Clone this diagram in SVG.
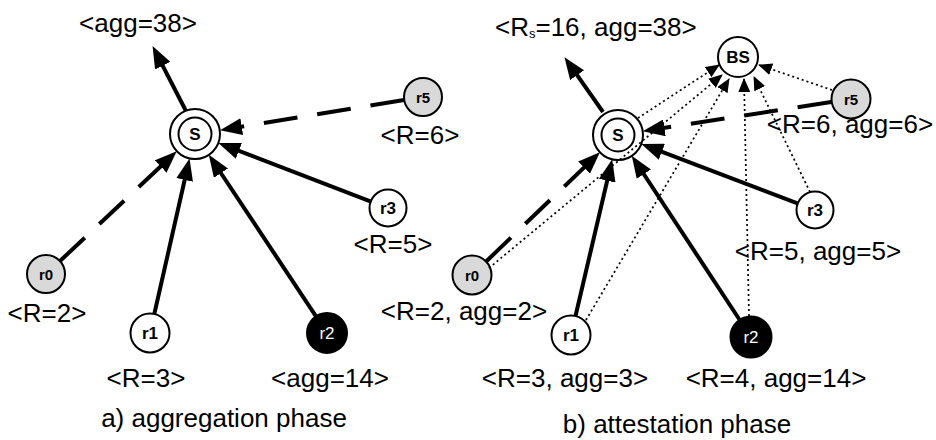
<svg xmlns="http://www.w3.org/2000/svg" width="936" height="440" viewBox="0 0 936 440">
<defs>
<marker id="big" markerUnits="userSpaceOnUse" markerWidth="22" markerHeight="17" refX="11" refY="8.5" orient="auto"><path d="M0,0 L22,8.5 L0,17 z" fill="#000"/></marker>
<marker id="small" markerUnits="userSpaceOnUse" markerWidth="14" markerHeight="12" refX="13" refY="6" orient="auto"><path d="M0,0 L14,6 L0,12 z" fill="#000"/></marker>
<style>
.lbl{font-family:"Liberation Sans",Arial,sans-serif;font-size:26px;fill:#000;text-anchor:middle}
.nl{font-family:"Liberation Sans",Arial,sans-serif;font-size:17px;font-weight:bold;fill:#000;text-anchor:middle}
.sm{font-size:15px}
.nd{fill:#fff;stroke:#000;stroke-width:2}
.gr{fill:#d9d9d9;stroke:#000;stroke-width:2}
.bk{fill:#000;stroke:#000;stroke-width:2}
.th{stroke:#000;stroke-width:4;fill:none;marker-end:url(#big)}
.da{stroke:#000;stroke-width:4;fill:none;stroke-dasharray:34 20;marker-end:url(#big)}
.dt{stroke:#000;stroke-width:1.7;fill:none;stroke-dasharray:2 3;marker-end:url(#small)}
</style>
</defs>
<rect width="936" height="440" fill="#fff"/>

<!-- left panel nodes -->
<g id="aS"><circle class="nd" cx="195" cy="134" r="25"/><circle class="nd" cx="195" cy="134" r="16.5"/><text class="nl" x="195" y="140">S</text></g>
<g id="ar5"><circle class="gr" cx="423" cy="97" r="19"/><text class="nl sm" x="423" y="102.5">r5</text></g>
<g id="ar3"><circle class="nd" cx="388" cy="208" r="18.5"/><text class="nl" x="388" y="214">r3</text></g>
<g id="ar0"><circle class="gr" cx="46" cy="274" r="19"/><text class="nl sm" x="46" y="279.5">r0</text></g>
<g id="ar1"><circle class="nd" cx="150" cy="333" r="19.5"/><text class="nl" x="150" y="339">r1</text></g>
<g id="ar2"><circle class="bk" cx="327" cy="333" r="20"/><text class="nl" x="327" y="339" style="fill:#fff;font-weight:normal">r2</text></g>

<!-- right panel nodes -->
<g id="bS"><circle class="nd" cx="618" cy="135" r="25"/><circle class="nd" cx="618" cy="135" r="16.5"/><text class="nl" x="618" y="141">S</text></g>
<g id="bBS"><circle class="nd" cx="738" cy="57" r="20"/><text class="nl" x="738" y="63">BS</text></g>
<g id="br5"><circle class="gr" cx="851" cy="99" r="19.5"/><text class="nl sm" x="851" y="104.5">r5</text></g>
<g id="br3"><circle class="nd" cx="815" cy="210" r="18.5"/><text class="nl" x="815" y="216">r3</text></g>
<g id="br0"><circle class="gr" cx="472" cy="275" r="19.5"/><text class="nl sm" x="472" y="280.5">r0</text></g>
<g id="br1"><circle class="nd" cx="571" cy="335" r="19.5"/><text class="nl" x="571" y="341">r1</text></g>
<g id="br2"><circle class="bk" cx="751" cy="337" r="20.5"/><text class="nl" x="751" y="343" style="fill:#fff;font-weight:normal">r2</text></g>

<g id="connectors">
<line class="th" x1="186" y1="111" x2="157.6" y2="55.9"/>
<line class="da" x1="404" y1="100" x2="230.9" y2="128.4"/>
<line class="th" x1="371" y1="201.6" x2="228.6" y2="146.9"/>
<line class="da" x1="60" y1="261" x2="168.7" y2="158.9"/>
<line class="th" x1="154.2" y1="314.5" x2="187.1" y2="169.2"/>
<line class="th" x1="316" y1="316.3" x2="214.9" y2="164"/>

<line class="th" x1="603" y1="112" x2="570.8" y2="66.2"/>
<line class="da" x1="831.2" y1="102" x2="653.6" y2="129.5"/>
<line class="th" x1="798.2" y1="203.6" x2="651.6" y2="147.9"/>
<line class="da" x1="486.4" y1="261.2" x2="592" y2="159.9"/>
<line class="th" x1="575.4" y1="316.5" x2="609.7" y2="170"/>
<line class="th" x1="739.4" y1="319.5" x2="637.8" y2="165"/>

<line class="dt" x1="638" y1="118" x2="719" y2="65"/>
<line class="dt" x1="489" y1="268" x2="722" y2="75"/>
<line class="dt" x1="586" y1="320" x2="729" y2="79"/>
<line class="dt" x1="749" y1="316" x2="744" y2="79"/>
<line class="dt" x1="810" y1="192" x2="754" y2="77"/>
<line class="dt" x1="832" y1="90" x2="759" y2="65"/>
</g>

<g id="labels">
<text class="lbl" x="138" y="32">&lt;agg=38&gt;</text>
<text class="lbl" x="420" y="144">&lt;R=6&gt;</text>
<text class="lbl" x="393" y="253">&lt;R=5&gt;</text>
<text class="lbl" x="47" y="322">&lt;R=2&gt;</text>
<text class="lbl" x="146" y="387">&lt;R=3&gt;</text>
<text class="lbl" x="330" y="387">&lt;agg=14&gt;</text>
<text class="lbl" x="224" y="427">a) aggregation phase</text>

<text class="lbl" x="495" y="36" style="text-anchor:start">&lt;R<tspan style="font-size:13px" dy="2">s</tspan><tspan dy="-2">=16, agg=38&gt;</tspan></text>
<text class="lbl" x="850" y="133">&lt;R=6, agg=6&gt;</text>
<text class="lbl" x="818" y="260">&lt;R=5, agg=5&gt;</text>
<text class="lbl" x="464" y="320">&lt;R=2, agg=2&gt;</text>
<text class="lbl" x="565" y="387">&lt;R=3, agg=3&gt;</text>
<text class="lbl" x="776" y="387">&lt;R=4, agg=14&gt;</text>
<text class="lbl" x="677" y="433">b) attestation phase</text>
</g>
</svg>
